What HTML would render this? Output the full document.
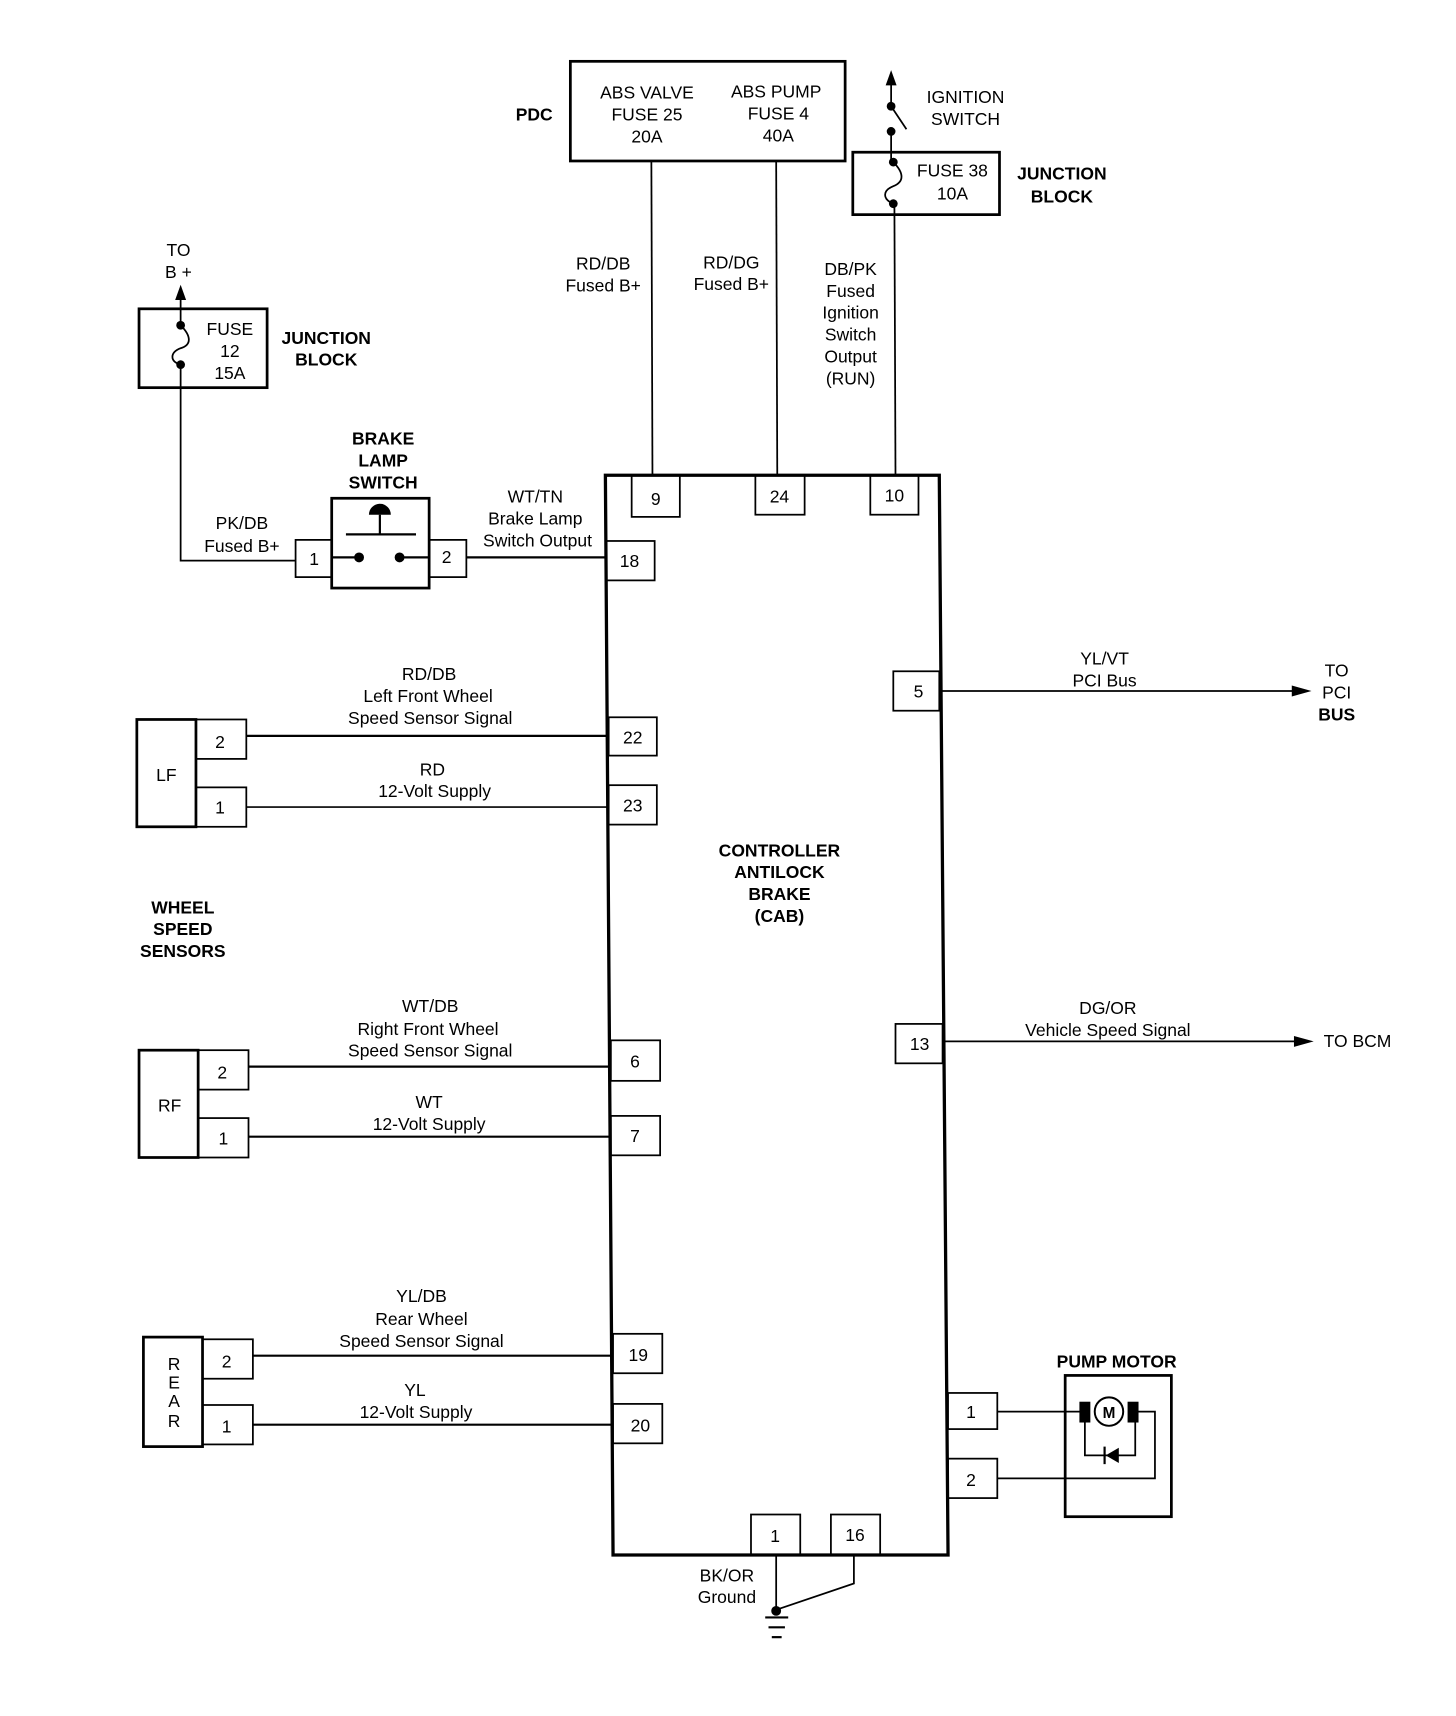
<!DOCTYPE html>
<html><head><meta charset="utf-8"><style>
html,body{margin:0;padding:0;background:#fff;}
svg{display:block;}
text{font-family:"Liberation Sans",sans-serif;font-size:16px;fill:#000;text-anchor:middle;}
.b{font-weight:bold;}
</style></head><body>
<svg width="1456" height="1716" viewBox="0 0 1330 1567" preserveAspectRatio="none" xmlns="http://www.w3.org/2000/svg">
<g fill="none" stroke="#000" stroke-width="1.6">
<!-- PDC -->
<rect x="521" y="56" width="251" height="91" stroke-width="2.5"/>
<line x1="595" y1="147" x2="596" y2="434"/>
<line x1="709" y1="147" x2="710" y2="434"/>
<!-- ignition switch -->
<line x1="814" y1="72" x2="814" y2="97"/>
<line x1="814" y1="97" x2="828" y2="118"/>
<line x1="814" y1="120" x2="814" y2="148"/>
<rect x="779" y="139" width="134" height="57" stroke-width="2.5"/>
<path d="M816 148 C826 158,826 166,816 170 C806 174,806 182,816 186"/>
<line x1="817" y1="186" x2="818" y2="434"/>
<!-- left junction -->
<line x1="165" y1="268" x2="165" y2="297"/>
<rect x="127" y="282" width="117" height="72" stroke-width="2.5"/>
<path d="M165 297 C175 307,175 315,165 318 C155 322,155 330,165 333"/>
<polyline points="165,333 165,512 270,512"/>
<!-- brake lamp switch -->
<rect x="303" y="455" width="89" height="82" stroke-width="2.5"/>
<rect x="270" y="493" width="33" height="34"/>
<rect x="392" y="493" width="34" height="34"/>
<line x1="316" y1="488" x2="380" y2="488" stroke-width="2"/>
<line x1="347" y1="470" x2="347" y2="488" stroke-width="2"/>
<line x1="303" y1="509" x2="328" y2="509" stroke-width="2"/>
<line x1="365" y1="509" x2="392" y2="509" stroke-width="2"/>
<line x1="426" y1="509" x2="553" y2="509" stroke-width="2"/>
<!-- CAB -->
<polygon points="553,434 858,434 866,1420 560,1420" stroke-width="3"/>
<rect x="577" y="434" width="44" height="38"/>
<rect x="690" y="434" width="45" height="36"/>
<rect x="795" y="434" width="44" height="36"/>
<rect x="553" y="494" width="45" height="36"/>
<rect x="556" y="655" width="44" height="35"/>
<rect x="556" y="717" width="44" height="36"/>
<rect x="558" y="950" width="45" height="37"/>
<rect x="558" y="1019" width="45" height="36"/>
<rect x="560" y="1218" width="45" height="36"/>
<rect x="560" y="1282" width="45" height="36"/>
<rect x="816" y="613" width="42" height="36"/>
<rect x="818" y="935" width="43" height="36"/>
<rect x="866" y="1272" width="45" height="33"/>
<rect x="866" y="1332" width="45" height="36"/>
<rect x="686" y="1383" width="45" height="37"/>
<rect x="759" y="1383" width="45" height="37"/>
<!-- LF -->
<rect x="125" y="657" width="54" height="98" stroke-width="2.5"/>
<rect x="179" y="657" width="46" height="36"/>
<rect x="179" y="719" width="46" height="36"/>
<line x1="225" y1="672" x2="556" y2="672" stroke-width="2"/>
<line x1="225" y1="737" x2="556" y2="737" stroke-width="1.4"/>
<!-- RF -->
<rect x="127" y="959" width="54" height="98" stroke-width="2.5"/>
<rect x="181" y="959" width="46" height="36"/>
<rect x="181" y="1021" width="46" height="36"/>
<line x1="227" y1="974" x2="558" y2="974" stroke-width="2"/>
<line x1="227" y1="1038" x2="558" y2="1038" stroke-width="2"/>
<!-- REAR -->
<rect x="131" y="1221" width="54" height="100" stroke-width="2.5"/>
<rect x="185" y="1223" width="46" height="36"/>
<rect x="185" y="1283" width="46" height="36"/>
<line x1="231" y1="1238" x2="560" y2="1238" stroke-width="2"/>
<line x1="231" y1="1301" x2="560" y2="1301" stroke-width="2"/>
<!-- right signals -->
<line x1="858" y1="631" x2="1185" y2="631"/>
<line x1="861" y1="951" x2="1188" y2="951"/>
<!-- pump motor -->
<rect x="973" y="1256" width="97" height="129" stroke-width="2.5"/>
<line x1="911" y1="1289" x2="987" y2="1289"/>
<polyline points="1039,1289 1055,1289 1055,1350 911,1350"/>
<polyline points="991,1293 991,1329 1037,1329 1037,1293"/>
<circle cx="1013" cy="1289" r="13" stroke-width="1.8"/>
<line x1="1009" y1="1321" x2="1009" y2="1337" stroke-width="2"/>
<!-- ground -->
<line x1="709" y1="1420" x2="709" y2="1470"/>
<polyline points="780,1420 780,1446 709,1470"/>
<line x1="699" y1="1477" x2="720" y2="1477" stroke-width="2"/>
<line x1="702" y1="1486" x2="717" y2="1486" stroke-width="2"/>
<line x1="705" y1="1495" x2="714" y2="1495" stroke-width="2"/>
</g>
<g fill="#000">
<polygon points="814,64 809,78 819,78"/>
<circle cx="814" cy="97" r="4"/><circle cx="814" cy="120" r="4"/>
<circle cx="816" cy="148" r="4"/><circle cx="816" cy="186" r="4"/>
<polygon points="165,260 160,274 170,274"/>
<circle cx="165" cy="297" r="4"/><circle cx="165" cy="333" r="4"/>
<path d="M337 470 A10 10 0 0 1 357 470 Z"/>
<circle cx="328" cy="509" r="4.5"/><circle cx="365" cy="509" r="4.5"/>
<polygon points="1198,631 1180,626 1180,636"/>
<polygon points="1200,951 1182,946 1182,956"/>
<rect x="986" y="1280" width="10" height="19"/>
<rect x="1030" y="1280" width="10" height="19"/>
<polygon points="1010,1329 1022,1322 1022,1336"/>
<circle cx="709" cy="1471" r="4.5"/>
</g>
<text x="591" y="90">ABS VALVE</text><text x="591" y="110">FUSE 25</text><text x="591" y="130">20A</text>
<text x="709" y="89">ABS PUMP</text><text x="711" y="109">FUSE 4</text><text x="711" y="129">40A</text>
<text class="b" x="488" y="110">PDC</text>
<text x="882" y="94">IGNITION</text><text x="882" y="114">SWITCH</text>
<text x="870" y="161">FUSE 38</text><text x="870" y="182">10A</text>
<text class="b" x="970" y="164">JUNCTION</text><text class="b" x="970" y="185">BLOCK</text>
<text x="551" y="246">RD/DB</text><text x="551" y="266">Fused B+</text>
<text x="668" y="245">RD/DG</text><text x="668" y="265">Fused B+</text>
<text x="777" y="251">DB/PK</text><text x="777" y="271">Fused</text><text x="777" y="291">Ignition</text><text x="777" y="311">Switch</text><text x="777" y="331">Output</text><text x="777" y="351">(RUN)</text>
<text x="163" y="234">TO</text><text x="163" y="254">B +</text>
<text x="210" y="306">FUSE</text><text x="210" y="326">12</text><text x="210" y="346">15A</text>
<text class="b" x="298" y="314">JUNCTION</text><text class="b" x="298" y="334">BLOCK</text>
<text class="b" x="350" y="406">BRAKE</text><text class="b" x="350" y="426">LAMP</text><text class="b" x="350" y="446">SWITCH</text>
<text x="221" y="483">PK/DB</text><text x="221" y="504">Fused B+</text>
<text x="287" y="516">1</text><text x="408" y="514">2</text>
<text x="489" y="459">WT/TN</text><text x="489" y="479">Brake Lamp</text><text x="491" y="499">Switch Output</text>
<text x="599" y="461">9</text><text x="712" y="459">24</text><text x="817" y="458">10</text>
<text x="575" y="518">18</text>
<text x="392" y="621">RD/DB</text><text x="391" y="641">Left Front Wheel</text><text x="393" y="661">Speed Sensor Signal</text>
<text x="201" y="683">2</text><text x="201" y="743">1</text><text x="152" y="713">LF</text>
<text x="578" y="679">22</text><text x="578" y="741">23</text>
<text x="395" y="708">RD</text><text x="397" y="728">12-Volt Supply</text>
<text x="1009" y="607">YL/VT</text><text x="1009" y="627">PCI Bus</text>
<text x="1221" y="618">TO</text><text x="1221" y="638">PCI</text><text class="b" x="1221" y="658">BUS</text>
<text x="839" y="637">5</text>
<text class="b" x="712" y="782">CONTROLLER</text><text class="b" x="712" y="802">ANTILOCK</text><text class="b" x="712" y="822">BRAKE</text><text class="b" x="712" y="842">(CAB)</text>
<text class="b" x="167" y="834">WHEEL</text><text class="b" x="167" y="854">SPEED</text><text class="b" x="167" y="874">SENSORS</text>
<text x="393" y="924">WT/DB</text><text x="391" y="945">Right Front Wheel</text><text x="393" y="965">Speed Sensor Signal</text>
<text x="1012" y="926">DG/OR</text><text x="1012" y="946">Vehicle Speed Signal</text>
<text x="1240" y="956">TO BCM</text>
<text x="840" y="959">13</text>
<text x="203" y="985">2</text><text x="204" y="1045">1</text><text x="155" y="1015">RF</text>
<text x="580" y="975">6</text><text x="580" y="1043">7</text>
<text x="392" y="1012">WT</text><text x="392" y="1032">12-Volt Supply</text>
<text x="385" y="1189">YL/DB</text><text x="385" y="1210">Rear Wheel</text><text x="385" y="1230">Speed Sensor Signal</text>
<text class="b" x="1020" y="1249">PUMP MOTOR</text>
<text x="207" y="1249">2</text><text x="207" y="1308">1</text>
<text x="159" y="1251">R</text><text x="159" y="1268">E</text><text x="159" y="1285">A</text><text x="159" y="1303">R</text>
<text x="583" y="1243">19</text><text x="585" y="1307">20</text>
<text x="379" y="1275">YL</text><text x="380" y="1295">12-Volt Supply</text>
<text class="b" x="1013" y="1295" style="font-size:14px">M</text>
<text x="887" y="1295">1</text><text x="887" y="1357">2</text>
<text x="708" y="1408">1</text><text x="781" y="1407">16</text>
<text x="664" y="1444">BK/OR</text><text x="664" y="1464">Ground</text>
</svg>
</body></html>
